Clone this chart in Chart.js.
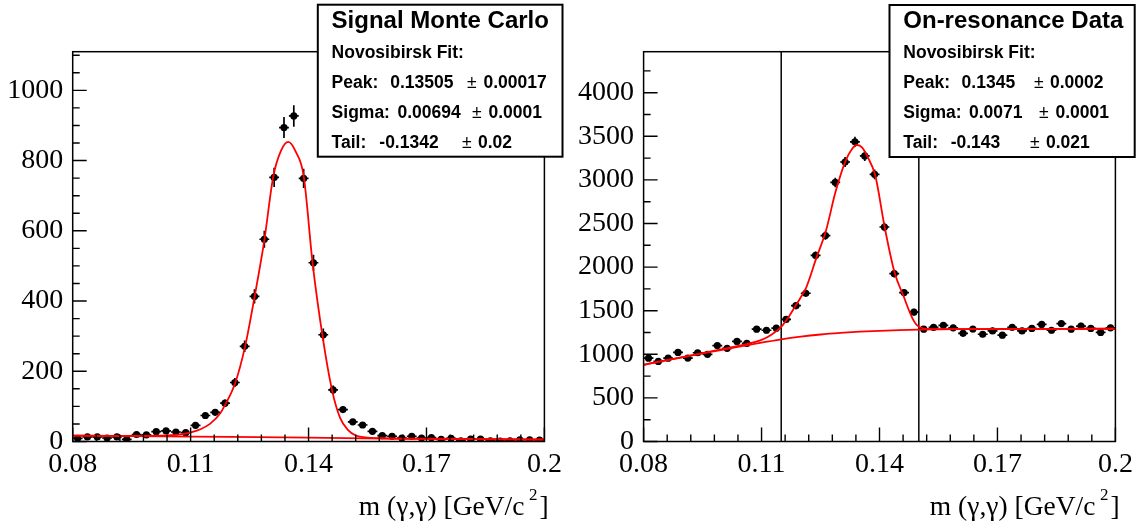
<!DOCTYPE html>
<html><head><meta charset="utf-8">
<script src="https://cdn.jsdelivr.net/npm/chart.js@4.4.1/dist/chart.umd.min.js"></script>
<style>
html,body{margin:0;padding:0;background:#fff;}
#wrap{position:relative;width:1141px;height:525px;overflow:hidden;background:#fff;}
.pane{position:absolute;top:0;height:525px;}
</style></head><body>
<div id="wrap">
<div class="pane" style="left:0;width:570px"><canvas id="c1" width="570" height="525"></canvas></div>
<div class="pane" style="left:570px;width:571px"><canvas id="c2" width="571" height="525"></canvas></div>
</div>
<script>
// ---------- data ----------
const binCenters = [0.08125,0.08375,0.08625,0.08875,0.09125,0.09375,0.09625,0.09875,0.10125,0.10375,0.10625,0.10875,
  0.11125,0.11375,0.11625,0.11875,0.12125,0.12375,0.12625,0.12875,0.13125,0.13375,0.13625,0.13875,
  0.14125,0.14375,0.14625,0.14875,0.15125,0.15375,0.15625,0.15875,0.16125,0.16375,0.16625,0.16875,
  0.17125,0.17375,0.17625,0.17875,0.18125,0.18375,0.18625,0.18875,0.19125,0.19375,0.19625,0.19875];
const binHalfWidth = 0.00125;

const mcCounts = [9,13,13,10,13,6,20,19,28,30,27,25,46,74,83,109,168,271,413,576,752,894,927,749,
  509,304,147,91,56,47,29,17,15,10,15,10,11,6,9,2,7,7,2,1,2,5,5,4];
const dataCounts = [955,918,955,1022,957,1018,1000,1100,1068,1148,1125,1288,1276,1300,1400,1557,1700,2134,2362,2971,3205,3436,3275,3064,
  2460,1925,1708,1483,1288,1309,1332,1303,1240,1290,1230,1268,1219,1310,1268,1297,1343,1276,1352,1288,1324,1297,1251,1303];

// fit curves
const mcFitX = [0.080,0.090,0.100,0.105,0.108,0.110,0.1125,0.115,0.1175,0.1187,0.1213,0.1238,0.1262,0.12875,0.1310,0.1330,0.13485,0.1367,0.13875,0.14105,0.1436,0.1460,0.1480,0.1500,0.1520,0.1550,0.1600,0.1700,0.2000];
const mcFitY = [17,16,16,18,21,26,35,51,80,103,165,268,408,573,753,828,853,826,757,506,297,145,68,33,17,11,9,8,6];
const mcBkgX = [0.08,0.11,0.14,0.16,0.20];
const mcBkgY = [17,14,11,8,5];

const dataFitX = [0.080,0.090,0.100,0.105,0.110,0.1125,0.115,0.1172,0.1185,0.1198,0.1213,0.1239,0.1264,0.1288,0.1313,0.1330,0.1343,0.1356,0.1370,0.1389,0.1413,0.1438,0.1462,0.1482,0.1495,0.1514,0.1550,0.1700,0.2000];
const dataFitY = [880,968,1058,1105,1165,1225,1315,1450,1545,1640,1760,2100,2420,2860,3210,3355,3400,3370,3260,3055,2461,1944,1657,1430,1335,1295,1288,1290,1293];
const dataBkgX = [0.080,0.085,0.090,0.095,0.100,0.105,0.110,0.115,0.120,0.125,0.130,0.135,0.140,0.145,0.150,0.160,0.200];
const dataBkgY = [880,925,968,1010,1052,1093,1133,1172,1203,1227,1245,1259,1269,1277,1283,1288,1293];

const signalWindow = [0.115, 0.150];

// axes
const xTicks = [0.08,0.11,0.14,0.17,0.2];
const xTickLabels = ["0.08","0.11","0.14","0.17","0.2"];
const xMinorStep = 0.006;
const mcYTicks = [0,200,400,600,800,1000];
const mcYTickLabels = ["0","200","400","600","800","1000"];
const mcYMinorStep = 50;
const mcYMax = 1110;
const dataYTicks = [0,500,1000,1500,2000,2500,3000,3500,4000];
const dataYTickLabels = ["0","500","1000","1500","2000","2500","3000","3500","4000"];
const dataYMinorStep = 250;
const dataYMax = 4470;
const xTitle = "m (\u03b3,\u03b3) [GeV/c";

// stat boxes
const mcBoxTitle = "Signal Monte Carlo";
const dataBoxTitle = "On-resonance Data";
const fitName = "Novosibirsk Fit:";
const statLabels = ["Peak:","Sigma:","Tail:"];
const mcStatValues = ["0.13505","0.00694","-0.1342"];
const mcStatErrors = ["0.00017","0.0001","0.02"];
const dataStatValues = ["0.1345","0.0071","-0.143"];
const dataStatErrors = ["0.0002","0.0001","0.021"];

// ---------- drawing ----------
const SERIF = "'Liberation Serif','Times New Roman',serif";
const SANS = "'Liberation Sans',Arial,Helvetica,sans-serif";

const rootPlugin = {
  id: 'rootFrame',
  beforeDatasetsDraw(chart, args, o) {
    const {ctx, chartArea: a} = chart;
    const x = chart.scales.x, y = chart.scales.y;
    ctx.save();
    ctx.beginPath(); ctx.rect(a.left, a.top, a.width, a.height); ctx.clip();
    ctx.strokeStyle = '#000';
    ctx.lineWidth = 1.5;
    (o.vlines || []).forEach(v => {
      const px = x.getPixelForValue(v);
      ctx.beginPath(); ctx.moveTo(px, a.top); ctx.lineTo(px, a.bottom); ctx.stroke();
    });
    ctx.lineWidth = 1.7;
    o.px.forEach((xv, i) => {
      const yv = o.py[i];
      const e = Math.sqrt(yv);
      const cx = x.getPixelForValue(xv), cy = y.getPixelForValue(yv);
      ctx.beginPath();
      ctx.moveTo(cx, y.getPixelForValue(yv + e)); ctx.lineTo(cx, y.getPixelForValue(Math.max(0, yv - e)));
      ctx.moveTo(x.getPixelForValue(xv - binHalfWidth), cy); ctx.lineTo(x.getPixelForValue(xv + binHalfWidth), cy);
      ctx.stroke();
    });
    ctx.restore();
  },
  afterDraw(chart, args, o) {
    const {ctx, chartArea: a} = chart;
    const x = chart.scales.x, y = chart.scales.y;
    ctx.save();
    ctx.strokeStyle = '#000';
    ctx.lineWidth = 1.5;
    ctx.strokeRect(a.left, a.top, a.width, a.height);
    // ticks (inside)
    ctx.lineWidth = 1.4;
    ctx.beginPath();
    for (let v = 0; v <= o.yMax + 1e-9; v += o.yMinor) {
      const py = y.getPixelForValue(v);
      const major = o.yMajor.some(m => Math.abs(m - v) < 1e-6);
      ctx.moveTo(a.left, py); ctx.lineTo(a.left + (major ? 14 : 7), py);
    }
    for (let k = 0; k <= 20; k++) {
      const v = xTicks[0] + k * xMinorStep;
      const px = x.getPixelForValue(v);
      const major = xTicks.some(m => Math.abs(m - v) < 1e-6);
      ctx.moveTo(px, a.bottom); ctx.lineTo(px, a.bottom - (major ? 14 : 7));
    }
    ctx.stroke();
    // axis title
    ctx.fillStyle = '#000';
    ctx.textBaseline = 'alphabetic';
    ctx.font = "27.5px " + SERIF;
    ctx.textAlign = 'right';
    ctx.fillText(xTitle, a.right - 20, 515);
    ctx.textAlign = 'left';
    ctx.font = "17px " + SERIF;
    ctx.fillText("2", a.right - 15.5, 500);
    ctx.font = "27.5px " + SERIF;
    ctx.fillText("]", a.right - 5, 515);
    // stat box
    const b = o.box;
    ctx.fillStyle = '#fff';
    ctx.fillRect(b.x, b.y, b.w, b.h);
    ctx.lineWidth = 2;
    ctx.strokeRect(b.x, b.y, b.w, b.h);
    ctx.fillStyle = '#000';
    ctx.textAlign = 'left';
    ctx.font = "bold 24px " + SANS;
    ctx.fillText(o.title, b.tx, 28);
    ctx.font = "bold 17.5px " + SANS;
    ctx.fillText(fitName, b.tx, 57.5);
    const base = [87.5, 118, 148];
    statLabels.forEach((lab, i) => {
      ctx.font = "bold 17.5px " + SANS;
      ctx.fillText(lab, b.tx, base[i]);
      ctx.fillText(o.values[i], b.vx[i], base[i]);
      ctx.fillText(o.errors[i], b.ex[i], base[i]);
      ctx.font = "17.5px " + SANS;
      ctx.fillText("\u00b1", b.px[i], base[i]);
    });
    ctx.restore();
  }
};

function buildChart(id, p) {
  const pts = binCenters.map((v, i) => ({x: v, y: p.counts[i]}));
  const fit = p.fitX.map((v, i) => ({x: v, y: p.fitY[i]}));
  const bkg = p.bkgX.map((v, i) => ({x: v, y: p.bkgY[i]}));
  const lineDs = d => ({data: d, showLine: true, borderColor: '#ff0000', borderWidth: 1.8, pointRadius: 0,
    cubicInterpolationMode: 'monotone', fill: false});
  return new Chart(document.getElementById(id), {
    type: 'scatter',
    data: {datasets: [lineDs(fit), lineDs(bkg),
      {data: pts, showLine: false, pointRadius: 3.6, pointStyle: 'circle', backgroundColor: '#000', borderColor: '#000', borderWidth: 0}]},
    options: {
      responsive: false, animation: false, devicePixelRatio: 1,
      layout: {padding: {top: 51.7, right: p.padRight, left: 0, bottom: 0}},
      plugins: {legend: {display: false}, tooltip: {enabled: false},
        rootFrame: {px: binCenters, py: p.counts, vlines: p.vlines, yMax: p.yMax, yMinor: p.yMinor, yMajor: p.yTicks,
          title: p.title, values: p.values, errors: p.errors, box: p.box}},
      scales: {
        x: {type: 'linear', min: xTicks[0], max: xTicks[xTicks.length - 1],
          grid: {display: false, drawTicks: false}, border: {display: false},
          afterFit: s => { s.height = 83.5; },
          afterBuildTicks: s => { s.ticks = xTicks.map(v => ({value: v})); },
          ticks: {callback: (v, i) => xTickLabels[i], color: '#000', padding: 6.5, maxRotation: 0, autoSkip: false,
            font: {family: SERIF, size: 28}}},
        y: {type: 'linear', min: 0, max: p.yMax,
          grid: {display: false, drawTicks: false}, border: {display: false},
          afterFit: s => { s.width = p.yWidth; },
          afterBuildTicks: s => { s.ticks = p.yTicks.map(v => ({value: v})); },
          ticks: {callback: (v, i) => p.yLabels[i], color: '#000', padding: 9.5, autoSkip: false,
            font: {family: SERIF, size: 28}}}
      }
    },
    plugins: [rootPlugin]
  });
}

buildChart('c1', {
  counts: mcCounts, fitX: mcFitX, fitY: mcFitY, bkgX: mcBkgX, bkgY: mcBkgY, vlines: [],
  yMax: mcYMax, yMinor: mcYMinorStep, yTicks: mcYTicks, yLabels: mcYTickLabels, yWidth: 72.7, padRight: 25.6,
  title: mcBoxTitle, values: mcStatValues, errors: mcStatErrors,
  box: {x: 317.8, y: 4.7, w: 244.7, h: 152, tx: 331.6, vx: [390.2, 397.5, 379.3], px: [467, 472, 462], ex: [483.5, 488.5, 478]}
});
buildChart('c2', {
  counts: dataCounts, fitX: dataFitX, fitY: dataFitY, bkgX: dataBkgX, bkgY: dataBkgY, vlines: signalWindow,
  yMax: dataYMax, yMinor: dataYMinorStep, yTicks: dataYTicks, yLabels: dataYTickLabels, yWidth: 73.6, padRight: 25.6,
  title: dataBoxTitle, values: dataStatValues, errors: dataStatErrors,
  box: {x: 319.5, y: 5, w: 245.2, h: 152, tx: 333.3, vx: [391.6, 398.9, 380.7], px: [464, 469, 460], ex: [480, 485.5, 476]}
});
</script>
</body></html>
